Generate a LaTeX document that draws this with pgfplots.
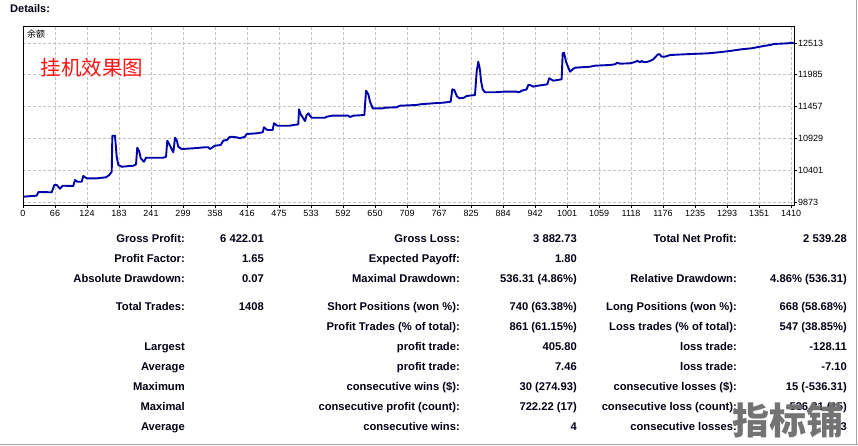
\documentclass[border=0pt]{standalone}
\usepackage{fontspec}
\setmainfont{Liberation Sans}
\newfontfamily\cjk{Noto Sans CJK SC}
\usepackage{pgfplots}
\pgfplotsset{compat=1.18}

\definecolor{mtblue}{RGB}{0,0,170}
\definecolor{gridgray}{RGB}{195,195,195}
\definecolor{wmgray}{RGB}{115,115,115}
\definecolor{titlered}{RGB}{255,20,20}
\definecolor{txt}{RGB}{0,0,20}

% one stats cell, right aligned on its baseline
\newcommand\cell[3]{\node[anchor=base east, inner sep=0pt, text=txt,
  font=\fontsize{11.2}{13}\selectfont\bfseries] at (#1,#2) {#3};}

\begin{document}
\begin{tikzpicture}[x=1pt,y=1pt]
\useasboundingbox (0,0) rectangle (858,-445);
\fill[white] (0,0) rectangle (858,-445);

\node[anchor=base west, inner sep=0pt, text=txt, font=\fontsize{11}{13}\selectfont\bfseries]
  at (10,-12.5) {Details:};

\begin{axis}[
  at={(23pt,-205pt)}, anchor=south west,
  scale only axis, width=771pt, height=179pt,
  xmin=0, xmax=1415.5,
  ymin=9831.6, ymax=12794,
  scaled y ticks=false,
  axis line style={black, line width=1pt},
  grid=major,
  major grid style={gridgray, dash pattern=on 3pt off 2pt, line width=0.9pt},
  tick align=outside,
  major tick length=3pt,
  tick style={black, line width=0.8pt},
  xtick pos=bottom, ytick pos=right,
  yticklabel pos=right,
  xtick={0,58.75,117.5,176.25,235,293.75,352.5,411.25,470,528.75,587.5,646.25,
         705,763.75,822.5,881.25,940,998.75,1057.5,1116.25,1175,1233.75,1292.5,
         1351.25,1410},
  xticklabels={0,66,124,183,241,299,358,416,475,533,592,650,709,767,825,884,942,
               1001,1059,1118,1176,1235,1293,1351,1410},
  ytick={9873,10401,10929,11457,11985,12513},
  yticklabels={9873,10401,10929,11457,11985,12513},
  ticklabel style={font=\fontsize{9}{10}\selectfont, inner sep=1pt},
  xticklabel style={yshift=-1pt},
  yticklabel style={anchor=west},
]
\addplot[mtblue, line width=1.9pt, line join=round, mark=none] table {
x       y
0       9969
25.2    9986
28.5    10047
52.7    10042
57.5    10163
61.9    10163
67.9    10101
72.9    10151
92.3    10146
95.5    10245
99.7    10217
107.8   10217
110.7   10312
117.0   10273
135.3   10273
152.4   10290
158.4   10328
162.9   10383
164.0   10978
168.9   10978
172.0   10631
175.0   10494
181.2   10465
202.5   10482
207.5   10505
209.8   10780
213.5   10714
216.1   10604
222.2   10548
225.8   10614
257.6   10614
262.6   10631
264.9   10896
269.9   10813
276.0   10704
279.1   10945
282.2   10907
285.1   10796
291.4   10758
312.7   10770
334.1   10787
340.2   10787
343.3   10758
349.4   10796
352.5   10813
363.0   10825
367.7   10896
374.0   10907
380.0   10962
392.3   10952
398.4   10936
407.6   10962
410.7   11007
429.0   11018
440.1   11035
442.4   11118
448.5   11073
458.4   11073
460.8   11184
466.9   11144
488.9   11144
505.4   11167
506.7   11415
509.8   11333
517.7   11222
520.8   11321
523.8   11349
530.0   11276
554.4   11276
557.6   11293
568.6   11310
597.3   11310
600.4   11288
606.5   11310
626.7   11321
629.8   11723
634.0   11664
637.1   11541
642.1   11432
660.4   11432
664.6   11442
686.1   11449
692.1   11475
722.8   11487
728.9   11498
753.3   11515
771.6   11525
785.2   11541
788.2   11746
791.8   11735
796.3   11636
801.0   11597
809.7   11607
814.6   11636
829.8   11652
832.9   12038
835.9   12203
839.0   12066
840.8   11889
844.0   11746
848.2   11697
866.5   11697
881.8   11707
906.4   11707
910.6   11697
915.5   11723
924.7   11746
927.6   11818
930.7   11818
936.8   11790
941.8   11801
962.5   11829
966.2   11929
973.5   11889
988.9   11912
990.8   12342
993.2   12352
996.9   12203
1004.2  12038
1009.1  12077
1013.4  12104
1040.9  12120
1050.1  12137
1077.6  12149
1086.8  12160
1091.1  12187
1096.0  12170
1114.4  12177
1123.6  12198
1127.8  12220
1132.7  12193
1135.9  12215
1138.8  12198
1145.0  12198
1151.1  12215
1157.2  12243
1164.5  12314
1168.2  12331
1172.6  12286
1178.6  12286
1187.8  12314
1215.4  12326
1258.2  12342
1282.8  12364
1301.1  12385
1319.5  12409
1337.9  12425
1353.1  12452
1374.6  12485
1377.5  12496
1405.0  12508
1411.2  12518
1415.0  12508
};
\end{axis}

\node[anchor=west, inner sep=0pt, font=\fontsize{9}{10}\selectfont\cjk]
  at (27,-34.3) {余额};
\node[anchor=west, inner sep=0pt, text=titlered, font=\fontsize{20.5}{22}\selectfont\cjk]
  at (40.5,-67.5) {挂机效果图};

% statistics table
\cell{185}{-242.3}{Gross Profit:}
\cell{264}{-242.3}{6 422.01}
\cell{460}{-242.3}{Gross Loss:}
\cell{577}{-242.3}{3 882.73}
\cell{737}{-242.3}{Total Net Profit:}
\cell{847}{-242.3}{2 539.28}

\cell{185}{-262.3}{Profit Factor:}
\cell{264}{-262.3}{1.65}
\cell{460}{-262.3}{Expected Payoff:}
\cell{577}{-262.3}{1.80}

\cell{185}{-282.3}{Absolute Drawdown:}
\cell{264}{-282.3}{0.07}
\cell{460}{-282.3}{Maximal Drawdown:}
\cell{577}{-282.3}{536.31 (4.86\%)}
\cell{737}{-282.3}{Relative Drawdown:}
\cell{847}{-282.3}{4.86\% (536.31)}

\cell{185}{-310}{Total Trades:}
\cell{264}{-310}{1408}
\cell{460}{-310}{Short Positions (won \%):}
\cell{577}{-310}{740 (63.38\%)}
\cell{737}{-310}{Long Positions (won \%):}
\cell{847}{-310}{668 (58.68\%)}

\cell{460}{-330}{Profit Trades (\% of total):}
\cell{577}{-330}{861 (61.15\%)}
\cell{737}{-330}{Loss trades (\% of total):}
\cell{847}{-330}{547 (38.85\%)}

\cell{185}{-350}{Largest}
\cell{460}{-350}{profit trade:}
\cell{577}{-350}{405.80}
\cell{737}{-350}{loss trade:}
\cell{847}{-350}{-128.11}

\cell{185}{-370}{Average}
\cell{460}{-370}{profit trade:}
\cell{577}{-370}{7.46}
\cell{737}{-370}{loss trade:}
\cell{847}{-370}{-7.10}

\cell{185}{-390}{Maximum}
\cell{460}{-390}{consecutive wins (\$):}
\cell{577}{-390}{30 (274.93)}
\cell{737}{-390}{consecutive losses (\$):}
\cell{847}{-390}{15 (-536.31)}

\cell{185}{-410}{Maximal}
\cell{460}{-410}{consecutive profit (count):}
\cell{577}{-410}{722.22 (17)}
\cell{737}{-410}{consecutive loss (count):}
\cell{847}{-410}{-536.31 (15)}

\cell{185}{-430}{Average}
\cell{460}{-430}{consecutive wins:}
\cell{577}{-430}{4}
\cell{737}{-430}{consecutive losses:}
\cell{847}{-430}{3}

\draw[gray!70, line width=1pt] (0,-444.3) -- (858,-444.3);
\draw[gray!70, line width=1pt] (856.8,0) -- (856.8,-445);

% watermark
\node[inner sep=0pt, text=wmgray, font=\fontsize{37}{40}\selectfont\cjk\bfseries]
  at (787.5,-420) {指标铺};
\end{tikzpicture}
\end{document}
